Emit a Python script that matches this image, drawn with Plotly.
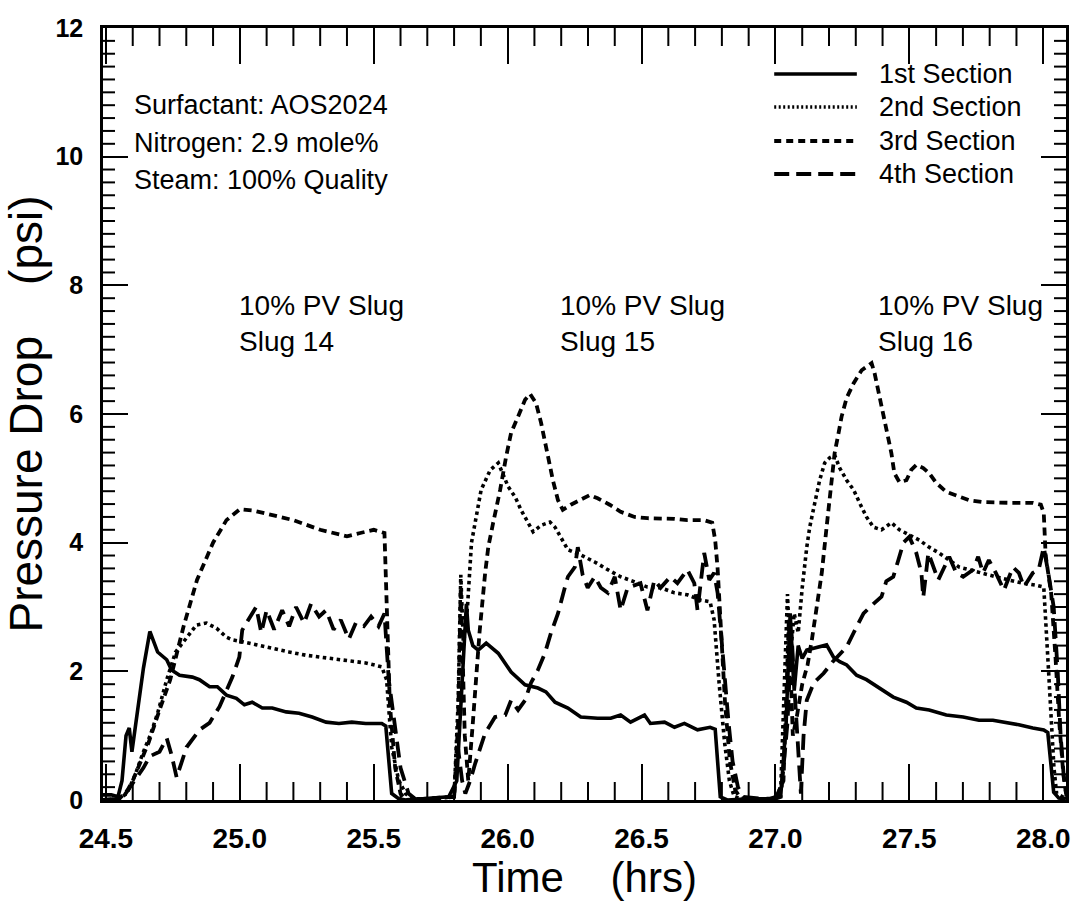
import plotly.graph_objects as go

# ---------------- data ----------------
time_1st = [24.489, 24.52, 24.545, 24.56, 24.575, 24.587, 24.597, 24.615, 24.64, 24.664,
            24.693, 24.727, 24.745, 24.775, 24.823, 24.849, 24.887, 24.916, 24.950, 24.987,
            25.017, 25.046, 25.084, 25.121, 25.173, 25.221, 25.270, 25.322, 25.370, 25.418,
            25.470, 25.530, 25.545, 25.567, 25.593, 25.62,
            25.70, 25.78, 25.81, 25.825, 25.838, 25.846, 25.853, 25.87, 25.890, 25.920,
            25.965, 25.991, 26.013, 26.065, 26.113, 26.143, 26.177, 26.225, 26.273, 26.336,
            26.385, 26.422, 26.459, 26.511, 26.533, 26.586, 26.623, 26.660, 26.709, 26.756,
            26.775, 26.794, 26.82,
            26.9, 26.98, 27.02, 27.04, 27.055, 27.07, 27.085, 27.1, 27.117, 27.143,
            27.191, 27.217, 27.240, 27.266, 27.303, 27.340, 27.389, 27.440, 27.489, 27.526,
            27.574, 27.638, 27.701, 27.760, 27.812, 27.861, 27.909, 27.961, 28.002, 28.017,
            28.039, 28.058, 28.085]
dp_1st = [0.08, 0.08, 0.05, 0.3, 1.0, 1.12, 0.75, 1.3, 2.05, 2.62,
          2.30, 2.18, 2.02, 1.94, 1.91, 1.87, 1.76, 1.76, 1.63, 1.58,
          1.48, 1.52, 1.43, 1.43, 1.37, 1.35, 1.29, 1.21, 1.19, 1.21,
          1.19, 1.19, 1.15, 0.1, 0.02, 0.0,
          0.02, 0.05, 0.3, 1.5, 2.6, 3.05, 2.64, 2.4, 2.33, 2.44,
          2.28, 2.13, 1.99, 1.79, 1.74, 1.68, 1.52, 1.43, 1.29, 1.27,
          1.27, 1.32, 1.21, 1.32, 1.19, 1.21, 1.13, 1.19, 1.09, 1.13,
          1.1, 0.05, 0.0,
          0.02, 0.02, 0.08, 1.2, 2.9, 1.7, 2.4, 2.2, 2.33, 2.36,
          2.41, 2.22, 2.15, 2.10, 1.94, 1.87, 1.74, 1.60, 1.52, 1.43,
          1.40, 1.32, 1.29, 1.24, 1.24, 1.21, 1.17, 1.12, 1.09, 1.05,
          0.12, 0.03, 0.02]

time_2nd = [24.489, 24.55, 24.578, 24.61, 24.638, 24.665, 24.693, 24.727, 24.76, 24.801,
            24.838, 24.875, 24.913, 24.950, 24.972, 25.009, 25.061, 25.121, 25.184, 25.247,
            25.322, 25.396, 25.470, 25.530, 25.548, 25.567, 25.593, 25.619, 25.64,
            25.72, 25.80, 25.815, 25.825, 25.835, 25.85, 25.865, 25.879, 25.901, 25.935,
            25.965, 26.002, 26.028, 26.050, 26.076, 26.095, 26.125, 26.158, 26.177, 26.199,
            26.225, 26.273, 26.325, 26.374, 26.422, 26.474, 26.522, 26.571, 26.623, 26.671,
            26.719, 26.756, 26.771, 26.79, 26.81, 26.828, 26.846, 26.87,
            26.95, 27.0, 27.02, 27.035, 27.045, 27.055, 27.07, 27.085, 27.1, 27.117,
            27.128, 27.147, 27.165, 27.184, 27.203, 27.221, 27.240, 27.266, 27.292, 27.314,
            27.340, 27.366, 27.396, 27.433, 27.463, 27.500, 27.537, 27.574, 27.611, 27.649,
            27.686, 27.723, 27.775, 27.823, 27.872, 27.924, 27.972, 28.002, 28.02, 28.04,
            28.05, 28.085]
dp_2nd = [0.0, 0.02, 0.1, 0.4, 0.73, 1.0, 1.35, 1.87, 2.3, 2.53,
          2.72, 2.75, 2.67, 2.53, 2.49, 2.46, 2.41, 2.36, 2.30, 2.25,
          2.21, 2.18, 2.13, 2.07, 1.87, 0.82, 0.31, 0.1, 0.02,
          0.02, 0.05, 1.5, 3.5, 2.4, 3.0, 4.0, 4.35, 4.82, 5.13,
          5.24, 4.87, 4.71, 4.51, 4.31, 4.17, 4.27, 4.32, 4.24, 4.07,
          3.89, 3.81, 3.70, 3.58, 3.47, 3.39, 3.31, 3.30, 3.22, 3.19,
          3.11, 3.08, 2.8, 1.8, 0.9, 0.3, 0.05, 0.02,
          0.02, 0.02, 0.2, 1.8, 3.2, 2.2, 2.9, 2.6, 3.3, 3.93,
          4.24, 4.62, 4.97, 5.24, 5.32, 5.36, 5.16, 4.97, 4.82, 4.62,
          4.40, 4.24, 4.2, 4.31, 4.2, 4.12, 4.04, 3.93, 3.84, 3.73,
          3.62, 3.58, 3.53, 3.47, 3.42, 3.37, 3.34, 3.31, 2.0, 0.5,
          0.1, 0.02]

time_3rd = [24.489, 24.55, 24.58, 24.6, 24.63, 24.66, 24.70, 24.74, 24.79, 24.84,
            24.90, 24.95, 25.0, 25.05, 25.1, 25.2, 25.3, 25.35, 25.4, 25.45,
            25.5, 25.54, 25.55, 25.56, 25.58, 25.6, 25.62,
            25.72, 25.80, 25.815, 25.825, 25.84, 25.853, 25.87, 25.895, 25.916, 25.928,
            25.946, 25.972, 25.994, 26.013, 26.039, 26.065, 26.084, 26.106, 26.125, 26.143,
            26.158, 26.169, 26.188, 26.206, 26.236, 26.273, 26.307, 26.336, 26.381, 26.422,
            26.474, 26.522, 26.571, 26.623, 26.671, 26.734, 26.764, 26.775, 26.784, 26.8,
            26.812, 26.83, 26.85, 26.875,
            26.95, 27.0, 27.03, 27.05, 27.065, 27.08, 27.1, 27.12, 27.136, 27.154,
            27.173, 27.191, 27.210, 27.221, 27.236, 27.247, 27.266, 27.292, 27.322, 27.359,
            27.370, 27.389, 27.407, 27.422, 27.433, 27.444, 27.463, 27.489, 27.507, 27.526,
            27.552, 27.574, 27.600, 27.638, 27.675, 27.723, 27.775, 27.823, 27.872, 27.924,
            27.961, 27.991, 28.002, 28.009, 28.03, 28.046, 28.06, 28.075, 28.085]
dp_3rd = [0.0, 0.02, 0.15, 0.3, 0.6, 0.9, 1.4, 1.87, 2.7, 3.42,
          4.0, 4.35, 4.52, 4.5, 4.45, 4.35, 4.2, 4.15, 4.1, 4.15,
          4.2, 4.15, 3.0, 1.5, 0.5, 0.1, 0.0,
          0.02, 0.05, 1.2, 3.3, 1.0, 0.3, 1.2, 2.6, 3.53, 3.94,
          4.31, 4.82, 5.33, 5.71, 5.96, 6.22, 6.31, 6.17, 5.86, 5.49,
          5.24, 4.97, 4.66, 4.51, 4.59, 4.66, 4.74, 4.69, 4.59, 4.48,
          4.40, 4.38, 4.38, 4.37, 4.35, 4.35, 4.31, 4.04, 3.6, 2.5,
          1.5, 0.6, 0.15, 0.0,
          0.02, 0.02, 0.3, 2.8, 1.0, 1.3, 1.8, 2.1, 2.49, 3.0,
          3.53, 4.24, 4.93, 5.39, 5.71, 5.96, 6.25, 6.48, 6.68, 6.79,
          6.64, 6.27, 5.91, 5.6, 5.39, 5.08, 4.94, 4.97, 5.13, 5.21,
          5.16, 5.08, 4.93, 4.79, 4.74, 4.66, 4.63, 4.62, 4.62, 4.62,
          4.62, 4.59, 4.46, 3.8, 3.2, 2.2, 1.2, 0.4, 0.1]

time_4th = [24.489, 24.56, 24.59, 24.615, 24.64, 24.664, 24.70, 24.727, 24.745, 24.764,
            24.801, 24.849, 24.887, 24.924, 24.972, 24.998, 25.009, 25.024, 25.061, 25.08,
            25.10, 25.128, 25.158, 25.184, 25.21, 25.24, 25.266, 25.296, 25.322, 25.35,
            25.377, 25.407, 25.433, 25.463, 25.49, 25.518, 25.54, 25.556, 25.582, 25.600,
            25.63, 25.66,
            25.72, 25.80, 25.815, 25.83, 25.842, 25.86, 25.879, 25.916, 25.953, 25.991,
            26.013, 26.039, 26.065, 26.087, 26.113, 26.139, 26.162, 26.188, 26.214, 26.225,
            26.251, 26.262, 26.28, 26.299, 26.325, 26.348, 26.374, 26.4, 26.422, 26.448,
            26.496, 26.522, 26.548, 26.571, 26.608, 26.634, 26.671, 26.697, 26.709, 26.734,
            26.753, 26.771, 26.784, 26.794, 26.81, 26.825, 26.84, 26.86, 26.88,
            26.95, 27.0, 27.02, 27.045, 27.06, 27.07, 27.085, 27.095, 27.105, 27.117,
            27.143, 27.180, 27.214, 27.266, 27.292, 27.329, 27.366, 27.396, 27.414, 27.440,
            27.459, 27.478, 27.500, 27.526, 27.545, 27.552, 27.571, 27.589, 27.608, 27.626,
            27.649, 27.675, 27.701, 27.738, 27.757, 27.775, 27.797, 27.823, 27.853, 27.887,
            27.909, 27.928, 27.961, 27.983, 28.002, 28.02, 28.039, 28.054, 28.065, 28.076,
            28.087]
dp_4th = [0.0, 0.02, 0.2, 0.35, 0.5, 0.68, 0.75, 0.96, 0.7, 0.35,
          0.82, 1.09, 1.2, 1.45, 1.91, 2.22, 2.64, 2.75, 3.0, 2.6,
          2.95, 2.65, 2.95, 2.7, 3.0, 2.75, 3.05, 2.85, 2.95, 2.65,
          2.8, 2.5, 2.75, 2.7, 2.85, 2.7, 2.9, 1.87, 1.1, 0.5,
          0.1, 0.0,
          0.02, 0.05, 0.8, 0.3, 0.1, 0.3, 0.57, 1.04, 1.29, 1.32,
          1.55, 1.4, 1.55, 1.82, 2.02, 2.28, 2.6, 2.9, 3.31, 3.47,
          3.62, 3.93, 3.5, 3.3, 3.47, 3.3, 3.22, 3.47, 2.95, 3.3,
          3.37, 2.95, 3.42, 3.3, 3.47, 3.37, 3.58, 3.37, 2.95, 3.84,
          3.42, 3.53, 3.22, 2.69, 2.0, 1.2, 0.6, 0.2, 0.05,
          0.02, 0.02, 0.05, 1.2, 2.6, 1.8, 0.8, 0.1, 1.0, 1.55,
          1.82, 1.97, 2.15, 2.38, 2.6, 2.9, 3.05, 3.16, 3.4, 3.47,
          3.73, 4.0, 4.09, 3.84, 3.53, 3.15, 3.84, 3.62, 3.42, 3.58,
          3.78, 3.53, 3.47, 3.58, 3.78, 3.53, 3.73, 3.53, 3.26, 3.62,
          3.53, 3.31, 3.53, 3.58, 3.93, 3.5, 3.0, 2.0, 1.0, 0.4,
          0.05]

series_names = ["1st Section", "2nd Section", "3rd Section", "4th Section"]
x_tick_values = [24.5, 25.0, 25.5, 26.0, 26.5, 27.0, 27.5, 28.0]
x_tick_labels = ["24.5", "25.0", "25.5", "26.0", "26.5", "27.0", "27.5", "28.0"]
y_tick_values = [0, 2, 4, 6, 8, 10, 12]
y_tick_labels = ["0", "2", "4", "6", "8", "10", "12"]
info_lines = ["Surfactant: AOS2024", "Nitrogen: 2.9 mole%", "Steam: 100% Quality"]
slug_labels = ["10% PV Slug<br>Slug 14", "10% PV Slug<br>Slug 15", "10% PV Slug<br>Slug 16"]
slug_label_times = [24.99, 26.188, 27.377]

# minor tick positions (every 0.1 h and every 0.2 psi)
x_minor_values = [round(24.5 + 0.1 * k, 2) for k in range(36) if k % 5 != 0]
y_minor_values = [round(0.2 * k, 2) for k in range(61) if k % 10 != 0]

# ---------------- styles ----------------
plot_dash = ["solid", "3.5px,3.5px", "8px,5px", "16px,8px"]
legend_dash = ["solid", "2px,2.5px", "7px,5px", "15px,7px"]
line_w = [3.6, 3.6, 3.8, 3.8]
X_RANGE = [24.489, 28.085]
Y_RANGE = [0, 12]
X_MAJOR_LEN, X_MINOR_LEN = 36, 18
Y_MAJOR_LEN, Y_MINOR_LEN = 25, 12

fig = go.Figure()
all_t = [time_1st, time_2nd, time_3rd, time_4th]
all_v = [dp_1st, dp_2nd, dp_3rd, dp_4th]
for t, v, name, dash, w in zip(all_t, all_v, series_names, plot_dash, line_w):
    assert len(t) == len(v), name
    fig.add_trace(go.Scatter(x=t, y=v, mode="lines", name=name, showlegend=False,
                             line=dict(color="black", width=w, dash=dash)))

NARROW = "Liberation Sans Narrow, Liberation Sans, Arial, sans-serif"
REG = "Liberation Sans, Arial, sans-serif"

fig.update_layout(
    width=1075, height=910,
    margin=dict(l=103, r=5, t=28, b=110),
    paper_bgcolor="white", plot_bgcolor="white",
    showlegend=False,
    font=dict(family=REG, color="black"),
)

fig.update_layout(
    xaxis=dict(
        range=X_RANGE, autorange=False, tickmode="array", tickvals=x_tick_values, ticktext=x_tick_labels,
        ticks="inside", ticklen=X_MAJOR_LEN, tickwidth=2, tickcolor="black",
        showline=True, linecolor="black", linewidth=2.5, mirror="allticks",
        showgrid=False, zeroline=False,
        tickfont=dict(family=NARROW, size=28, weight="bold", color="black"),
        ticklabelstandoff=12,
        title=dict(text="Time\u00a0\u00a0\u00a0\u00a0(hrs)",
                   font=dict(family=NARROW, size=42, color="black"), standoff=8),
    ),
    yaxis=dict(
        range=Y_RANGE, autorange=False, tickmode="array", tickvals=y_tick_values, ticktext=y_tick_labels,
        ticks="inside", ticklen=Y_MAJOR_LEN, tickwidth=2, tickcolor="black",
        showline=True, linecolor="black", linewidth=2.5, mirror="allticks",
        showgrid=False, zeroline=False,
        tickfont=dict(family=NARROW, size=25, weight="bold", color="black"),
        ticklabelstandoff=12,
        title=dict(text="Pressure Drop\u00a0\u00a0\u00a0\u00a0(psi)",
                   font=dict(family=REG, size=46, color="black"), standoff=4),
    ),
)

# minor tick marks on all four sides (pixel-length marks anchored to the axes)
shapes = []
tick_line = dict(color="black", width=2)
for xv in x_minor_values:
    shapes.append(dict(type="line", xref="x", yref="paper", x0=xv, x1=xv,
                       ysizemode="pixel", yanchor=0, y0=0, y1=X_MINOR_LEN, line=tick_line))
    shapes.append(dict(type="line", xref="x", yref="paper", x0=xv, x1=xv,
                       ysizemode="pixel", yanchor=1, y0=0, y1=-X_MINOR_LEN, line=tick_line))
for yv in y_minor_values:
    shapes.append(dict(type="line", xref="paper", yref="y", y0=yv, y1=yv,
                       xsizemode="pixel", xanchor=0, x0=0, x1=Y_MINOR_LEN, line=tick_line))
    shapes.append(dict(type="line", xref="paper", yref="y", y0=yv, y1=yv,
                       xsizemode="pixel", xanchor=1, x0=0, x1=-Y_MINOR_LEN, line=tick_line))

annotations = []
info_y = [10.80, 10.21, 9.64]
for txt, yy in zip(info_lines, info_y):
    annotations.append(dict(x=24.598, y=yy, xref="x", yref="y", text=txt, showarrow=False,
                            xanchor="left", yanchor="middle",
                            font=dict(family=REG, size=27, color="black")))
for txt, tx in zip(slug_labels, slug_label_times):
    annotations.append(dict(x=tx, y=7.41, xref="x", yref="y", text=txt, showarrow=False,
                            xanchor="left", yanchor="middle", align="left",
                            font=dict(family=REG, size=28, color="black")))

# legend drawn manually (long sample lines as in the original)
legend_rows_y = [0.9404, 0.8977, 0.8536, 0.8109]
for name, dash, w, ly in zip(series_names, legend_dash, line_w, legend_rows_y):
    shapes.append(dict(type="line", xref="paper", yref="paper", x0=0.697, x1=0.7828, y0=ly, y1=ly,
                       line=dict(color="black", width=w, dash=dash)))
    annotations.append(dict(x=0.8036, y=ly, xref="paper", yref="paper", text=name, showarrow=False,
                            xanchor="left", yanchor="middle",
                            font=dict(family=NARROW, size=27, color="black")))

fig.update_layout(annotations=annotations, shapes=shapes)
fig.write_html("out.html")
